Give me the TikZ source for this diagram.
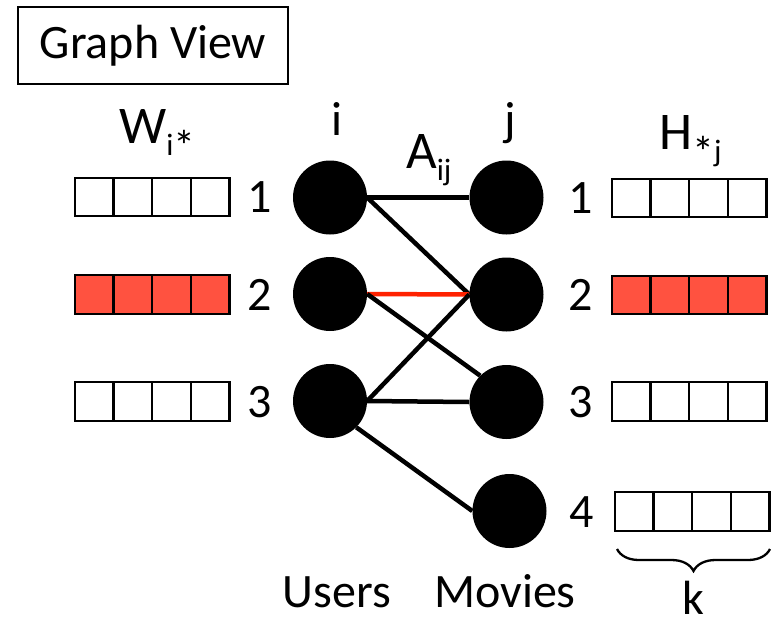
\documentclass[tikz,border=0pt]{standalone}
\usepackage{fontspec}
\setmainfont{Carlito}
\usetikzlibrary{decorations.pathreplacing,backgrounds}
\definecolor{cellred}{RGB}{255,82,64}
\definecolor{edgered}{RGB}{255,34,0}
\newcommand\bigtxt{\fontsize{48}{54}\selectfont}
\newcommand\headtxt{\fontsize{53}{58}\selectfont}
\newcommand\subx[1]{\raisebox{-12pt}{\fontsize{31}{31}\selectfont #1}}
\newcommand\astx{\raisebox{-18pt}{\fontsize{44}{44}\selectfont *}}
\begin{document}
\begin{tikzpicture}[x=1pt,y=-1pt,
  cell/.style={draw, line width=2.3pt, minimum size=38.6pt, inner sep=0pt},
  vert/.style={circle, fill=black, minimum size=74pt, inner sep=0pt},
  lbl/.style={font=\bigtxt, inner sep=0pt, anchor=base},
  head/.style={font=\headtxt, inner sep=0pt, anchor=base west},
  edge/.style={line width=4.5pt},
  rededge/.style={line width=4.5pt, draw=edgered},
  titlebox/.style={draw, line width=1.6pt, minimum width=270pt, minimum height=77pt, font=\bigtxt}]
\useasboundingbox (0,0) rectangle (775,621);

\node[titlebox] (title) at (153,45.5) {Graph View};

% left arrays W
\foreach \r/\y/\f in {1/197/white,2/294.5/cellred,3/401.5/white}{
  \foreach \k in {0,...,3}
    \node[cell, fill=\f] (w\r\k) at ({94.3+38.6*\k},\y) {};
}
% right arrays H
\foreach \r/\y/\f/\x in {1/198/white/631.3,2/295/cellred/631.3,3/401.5/white/631.3,4/511.5/white/634.3}{
  \foreach \k in {0,...,3}
    \node[cell, fill=\f] (h\r\k) at ({\x+38.6*\k},\y) {};
}

% vertices
\node[vert] (u1) at (330,197.5) {};
\node[vert] (u2) at (330,294) {};
\node[vert] (u3) at (330,401) {};
\node[vert] (m1) at (506.5,197.5) {};
\node[vert] (m2) at (506.5,294.5) {};
\node[vert] (m3) at (506.5,402) {};
\node[vert] (m4) at (509.5,511) {};

% edges
\begin{scope}[on background layer]
\draw[edge] (u1.east) -- (m1.west);
\draw[edge] (u1.east) -- (m2.west);
\draw[rededge] (u2.east) -- (m2.west);
\draw[edge] (u2.east) -- (m3.north west);
\draw[edge] (u3.east) -- (m2.west);
\draw[edge] (u3.east) -- (m3.west);
\draw[edge] (u3.south east) -- (m4.west);
\end{scope}

% row numbers
\node[lbl] (wl1) at (259.5,212) {1};
\node[lbl] (wl2) at (259.5,310) {2};
\node[lbl] (wl3) at (259.5,417) {3};
\node[lbl] (hl1) at (580.5,213) {1};
\node[lbl] (hl2) at (580.5,310) {2};
\node[lbl] (hl3) at (580.5,417) {3};
\node[lbl] (hl4) at (581.5,527) {4};

% headers
\node[head] (wlab) at (119,143) {W\subx{i}\astx};
\node[head] (hlab) at (659,149) {H\astx\subx{j}};
\node[lbl] (ilab) at (337,135) {i};
\node[lbl] (jlab) at (510,135) {j};
\node[head] (alab) at (406,168) {A\subx{ij}};

% bottom labels
\node[lbl] (users) at (337,607) {Users};
\node[lbl] (movies) at (505,607) {Movies};

% brace
\coordinate (bl) at (617,549);
\coordinate (br) at (770,549);
\draw[line width=2.3pt, decorate, decoration={brace, amplitude=22pt}] (br) -- (bl);
\node[lbl] (k) at (693,614) {k};
\end{tikzpicture}
\end{document}
